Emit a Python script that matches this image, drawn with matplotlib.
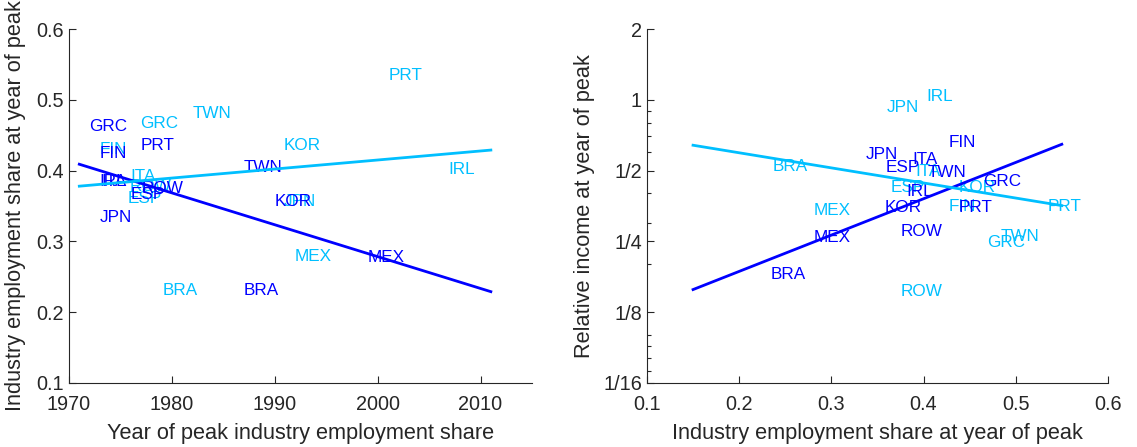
import numpy as np
import matplotlib
matplotlib.use('Agg')
import matplotlib.pyplot as plt
from matplotlib.ticker import FixedLocator, NullFormatter

plt.rcParams.update({
    'font.family': ['Liberation Sans', 'DejaVu Sans'],
    'axes.spines.top': False,
    'axes.spines.right': False,
    'axes.edgecolor': '#262626',
    'axes.linewidth': 0.8,
    'xtick.direction': 'in',
    'ytick.direction': 'in',
    'xtick.color': '#262626',
    'ytick.color': '#262626',
    'text.color': '#262626',
    'axes.labelcolor': '#262626',
})

DARK = '#0000ff'
CYAN = '#00bfff'

# ── Left panel: year of peak vs employment share at peak ─────────
dark_left_codes = ['GRC', 'FIN', 'PRT', 'JPN', 'IRL', 'ITA', 'ESP', 'ROW',
                   'TWN', 'KOR', 'MEX', 'BRA']
dark_left_year = [1973.8, 1974.3, 1978.6, 1974.5, 1974.2, 1974.4, 1977.7,
                  1979.1, 1988.9, 1991.8, 2000.8, 1988.7]
dark_left_share = [0.462, 0.424, 0.436, 0.334, 0.384, 0.384, 0.366, 0.375,
                   0.404, 0.356, 0.277, 0.231]

cyan_left_codes = ['TWN', 'GRC', 'FIN', 'ITA', 'ROW', 'ESP', 'KOR', 'JPN',
                   'PRT', 'IRL', 'MEX', 'BRA']
cyan_left_year = [1983.9, 1978.8, 1974.3, 1977.2, 1977.9, 1977.4, 1992.7,
                  1992.4, 2002.7, 2008.2, 1993.7, 1980.8]
cyan_left_share = [0.481, 0.467, 0.430, 0.392, 0.377, 0.361, 0.436, 0.357,
                   0.534, 0.401, 0.278, 0.231]

fit_left_x = [1971, 2011]
fit_left_dark = [0.409, 0.229]
fit_left_cyan = [0.378, 0.429]

# ── Right panel: employment share vs relative income ─────────────
dark_right_codes = ['JPN', 'ITA', 'ESP', 'TWN', 'FIN', 'GRC', 'IRL', 'KOR',
                    'PRT', 'ROW', 'MEX', 'BRA']
dark_right_share = [0.355, 0.402, 0.378, 0.426, 0.442, 0.485, 0.396, 0.378,
                    0.456, 0.398, 0.301, 0.253]
dark_right_income = [0.586, 0.558, 0.516, 0.491, 0.659, 0.450, 0.408, 0.348,
                     0.348, 0.275, 0.259, 0.180]

cyan_right_codes = ['JPN', 'IRL', 'BRA', 'ITA', 'ESP', 'KOR', 'FIN', 'PRT',
                    'TWN', 'GRC', 'ROW', 'MEX']
cyan_right_share = [0.377, 0.418, 0.255, 0.405, 0.383, 0.458, 0.442, 0.553,
                    0.505, 0.490, 0.398, 0.301]
cyan_right_income = [0.930, 1.036, 0.521, 0.496, 0.424, 0.424, 0.352, 0.352,
                     0.262, 0.247, 0.153, 0.338]

fit_right_x = [0.15, 0.55]
fit_right_dark = [0.156, 0.647]
fit_right_cyan = [0.641, 0.355]

LABEL_FS = 12.3
TICK_FS = 14.3
AXLAB_FS = 15.7

fig = plt.figure(figsize=(11.37, 4.47), dpi=100)
ax1 = fig.add_axes([0.0607, 0.1432, 0.4072, 0.7919])
ax2 = fig.add_axes([0.5690, 0.1432, 0.4054, 0.7919])

# left
for c, x, y in zip(cyan_left_codes, cyan_left_year, cyan_left_share):
    ax1.text(x, y, c, color=CYAN, fontsize=LABEL_FS, ha='center', va='center')
for c, x, y in zip(dark_left_codes, dark_left_year, dark_left_share):
    ax1.text(x, y, c, color=DARK, fontsize=LABEL_FS, ha='center', va='center')
ax1.plot(fit_left_x, fit_left_dark, '-', color=DARK, lw=2, zorder=5)
ax1.plot(fit_left_x, fit_left_cyan, '-', color=CYAN, lw=2, zorder=5)

ax1.set_xlim(1970, 2015)
ax1.set_ylim(0.1, 0.6)
ax1.set_xticks([1970, 1980, 1990, 2000, 2010])
ax1.set_yticks([0.1, 0.2, 0.3, 0.4, 0.5, 0.6])
ax1.set_yticklabels(['0.1', '0.2', '0.3', '0.4', '0.5', '0.6'])
ax1.tick_params(labelsize=TICK_FS, length=5, width=0.8)
ax1.tick_params(axis='x', pad=9)
ax1.set_xlabel('Year of peak industry employment share', fontsize=AXLAB_FS)
ax1.set_ylabel('Industry employment share at year of peak', fontsize=AXLAB_FS)
ax1.xaxis.set_label_coords(0.5, -0.112)
ax1.yaxis.set_label_coords(-0.092, 0.5)

# right
for c, x, y in zip(cyan_right_codes, cyan_right_share, cyan_right_income):
    ax2.text(x, y, c, color=CYAN, fontsize=LABEL_FS, ha='center', va='center')
for c, x, y in zip(dark_right_codes, dark_right_share, dark_right_income):
    ax2.text(x, y, c, color=DARK, fontsize=LABEL_FS, ha='center', va='center')
ax2.plot(fit_right_x, fit_right_dark, '-', color=DARK, lw=2, zorder=5)
ax2.plot(fit_right_x, fit_right_cyan, '-', color=CYAN, lw=2, zorder=5)

ax2.set_yscale('log', base=2)
ax2.set_xlim(0.1, 0.6)
ax2.set_ylim(1 / 16, 2)
ax2.set_xticks([0.1, 0.2, 0.3, 0.4, 0.5, 0.6])
ax2.set_xticklabels(['0.1', '0.2', '0.3', '0.4', '0.5', '0.6'])
ax2.yaxis.set_major_locator(FixedLocator([1 / 16, 1 / 8, 1 / 4, 1 / 2, 1, 2]))
ax2.set_yticklabels(['1/16', '1/8', '1/4', '1/2', '1', '2'])
ax2.yaxis.set_minor_locator(FixedLocator(
    [0.07, 0.08, 0.09, 0.1, 0.2, 0.3, 0.4, 0.6, 0.7, 0.8, 0.9]))
ax2.yaxis.set_minor_formatter(NullFormatter())
ax2.tick_params(labelsize=TICK_FS, length=5, width=0.8)
ax2.tick_params(axis='x', pad=9)
ax2.tick_params(which='minor', length=3, width=0.8)
ax2.set_xlabel('Industry employment share at year of peak', fontsize=AXLAB_FS)
ax2.set_ylabel('Relative income at year of peak', fontsize=AXLAB_FS)
ax2.xaxis.set_label_coords(0.5, -0.112)
ax2.yaxis.set_label_coords(-0.113, 0.5)

fig.savefig('out.png', dpi=100, facecolor='white')
